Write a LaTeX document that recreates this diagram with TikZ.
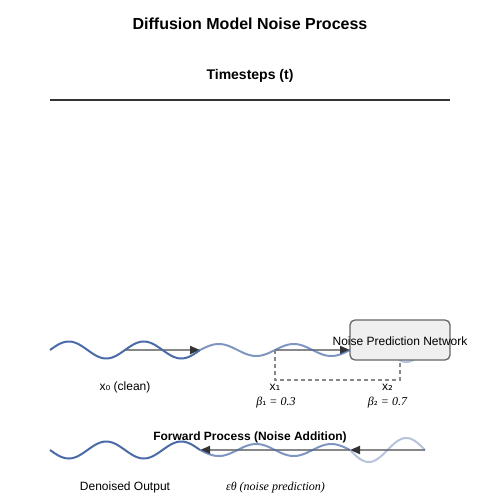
\documentclass[tikz,border=0pt]{standalone}
\usepackage{fontspec}
\setmainfont{Liberation Sans}
\newfontfamily\serifit{Liberation Serif}
\newfontfamily\djv{DejaVu Sans}
\usetikzlibrary{arrows.meta}
\definecolor{wavecol}{HTML}{4A6AA8}
\definecolor{linegray}{HTML}{888888}
\definecolor{headgray}{HTML}{333333}
\definecolor{boxfill}{HTML}{EFEFEF}
\definecolor{boxdraw}{HTML}{666666}
\begin{document}
\begin{tikzpicture}[x=1pt,y=-1pt,
  wave/.style={draw=wavecol, line width=2pt, line join=round},
  flowarrow/.style={draw=linegray, line width=1.8pt, -{Triangle[length=10pt,width=8pt,fill=headgray,color=headgray]}},
  dashlink/.style={draw=linegray, line width=1.5pt, dash pattern=on 4pt off 3pt},
  netbox/.style={draw=boxdraw, fill=boxfill, line width=1.3pt, rounded corners=5pt, minimum width=100pt, minimum height=40pt, inner sep=0pt},
  lbl/.style={font=\fontsize{12}{14}\selectfont, anchor=base, inner sep=0pt},
  mathlbl/.style={font=\fontsize{12}{14}\selectfont\serifit\itshape, anchor=base, inner sep=0pt},
  boldlbl/.style={font=\fontsize{12}{14}\selectfont\bfseries, anchor=base, inner sep=0pt}
]
\useasboundingbox[fill=white] (0,0) rectangle (500,500);

% titles
\node[anchor=base, inner sep=0pt, font=\fontsize{16}{19}\selectfont\bfseries] (title) at (250,30) {Diffusion Model Noise Process};
\node[anchor=base, inner sep=0pt, font=\fontsize{14}{17}\selectfont\bfseries] (axis) at (250,80) {Timesteps (t)};
\coordinate (axL) at (50,100);
\coordinate (axR) at (450,100);
\draw[draw=headgray, line width=2pt] (axL) -- (axR);

% coordinates for arrows
\coordinate (t0) at (125,350);
\coordinate (t1) at (200,350);
\coordinate (t2) at (275,350);
\coordinate (t3) at (350,350);
\coordinate (b0) at (425,450);
\coordinate (b1) at (350,450);
\coordinate (b2) at (200,450);
\coordinate (dA) at (275,380);
\coordinate (dB) at (400,380);

% arrows (forward)
\draw[flowarrow] (t0) -- (t1);
\draw[flowarrow] (t2) -- (t3);
% arrows (reverse)
\draw[flowarrow] (b0) -- (b1);
\draw[flowarrow] (b1) -- (b2);

% top waves
\draw[wave] plot[domain=0:150, samples=120, smooth] ({50+\x}, {350 - 8.5*sin(4.8*\x)});
\draw[wave, draw opacity=0.7] plot[domain=0:150, samples=120, smooth] ({200+\x}, {350 - 6*sin(4.8*\x)});
\draw[wave, draw opacity=0.4] plot[domain=0:75, samples=80, smooth] ({350+\x}, {350 - 12*sin(4.8*\x)});

% bottom waves
\draw[wave] plot[domain=0:150, samples=120, smooth] ({50+\x}, {450 + 8.5*sin(4.8*\x)});
\draw[wave, draw opacity=0.7] plot[domain=0:150, samples=120, smooth] ({200+\x}, {450 + 6*sin(4.8*\x)});
\draw[wave, draw opacity=0.4] plot[domain=0:75, samples=80, smooth] ({350+\x}, {450 + 12*sin(4.8*\x)});

% network box
\node[netbox] (net) at (400,340) {};
\node[lbl] (netlbl) at (400,345) {Noise Prediction Network};

% dashed link
\draw[dashlink] (t2) -- (dA) -- (dB) -- (net.south);

% labels
\node[lbl] (x0) at (125,390) {x{\djv ₀} (clean)};
\node[lbl] (x1) at (275,390) {x{\djv ₁}};
\node[mathlbl] (b1l) at (276,405) {β{\upshape\djv\fontsize{10}{12}\selectfont ₁} = 0.3};
\node[lbl] (x2) at (387.5,390) {x{\djv ₂}};
\node[mathlbl] (b2l) at (387.5,405) {β{\upshape\djv\fontsize{10}{12}\selectfont ₂} = 0.7};
\node[boldlbl] (fwd) at (250,440) {Forward Process (Noise Addition)};
\node[lbl] (den) at (125,490) {Denoised Output};
\node[mathlbl] (eps) at (275.5,490) {εθ (noise prediction)};
\end{tikzpicture}
\end{document}
